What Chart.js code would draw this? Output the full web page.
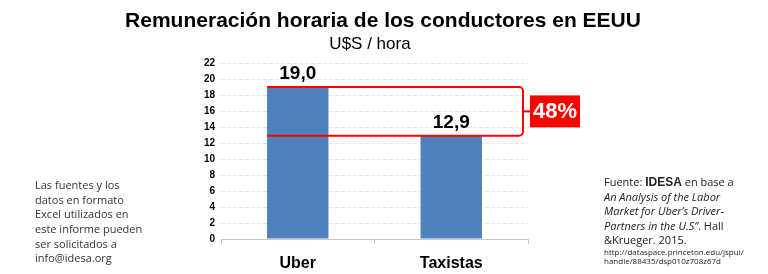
<!DOCTYPE html>
<html>
<head>
<meta charset="utf-8">
<script src="https://cdn.jsdelivr.net/npm/chart.js@4"></script>
<style>
  html, body { margin: 0; padding: 0; background: #fff; }
  #wrap { position: relative; width: 768px; height: 274px; }
</style>
</head>
<body>
<div id="wrap"><canvas id="c" width="768" height="274"></canvas></div>
<script>
// data
const categories = ['Uber', 'Taxistas'];
const salary = [19.0, 12.9];
const yTicks = [0, 2, 4, 6, 8, 10, 12, 14, 16, 18, 20, 22];
const gapLabel = '48%';

const title = 'Remuneración horaria de los conductores en EEUU';
const subtitle = 'U$S / hora';
const noteLines = ['Las fuentes y los', 'datos en formato', 'Excel utilizados en', 'este informe pueden', 'ser solicitados a', 'info@idesa.org'];

const RED = '#ff0000';
const SANS = '"Liberation Sans", Arial, sans-serif';
const SOFT = '"Open Sans", "Noto Sans", sans-serif';

const fmt = v => v.toFixed(1).replace('.', ',');

// texts, value labels and the red bracket
const extras = {
  id: 'extras',
  afterDatasetsDraw(chart) {
    const c = chart.ctx;
    const y = chart.scales.y;
    const area = chart.chartArea;
    const bars = chart.getDatasetMeta(0).data;
    c.save();

    // value labels
    c.fillStyle = '#000';
    c.font = 'bold 19px ' + SANS;
    c.textAlign = 'center';
    c.textBaseline = 'bottom';
    bars.forEach((b, i) => c.fillText(fmt(salary[i]), b.x, b.y - 4));

    // bracket
    const yHi = y.getPixelForValue(salary[0]);
    const yLo = y.getPixelForValue(salary[1]);
    const x0 = bars[0].x - bars[0].width / 2;
    const x1 = area.right - 5;
    const r = 4;
    c.strokeStyle = RED;
    c.lineWidth = 2;
    c.beginPath();
    c.moveTo(x0, yHi);
    c.lineTo(x1 - r, yHi);
    c.arcTo(x1, yHi, x1, yHi + r, r);
    c.lineTo(x1, yLo - r);
    c.arcTo(x1, yLo, x1 - r, yLo, r);
    c.lineTo(x0, yLo);
    c.stroke();
    const ym = (yHi + yLo) / 2;
    c.beginPath();
    c.moveTo(x1, ym);
    c.lineTo(x1 + 8, ym);
    c.stroke();
    c.fillStyle = RED;
    c.fillRect(x1 + 7, ym - 16, 50, 32);
    c.fillStyle = '#fff';
    c.font = 'bold 22px ' + SANS;
    c.textBaseline = 'middle';
    c.fillText(gapLabel, x1 + 32, ym + 1);
    c.restore();
  },
  afterDraw(chart) {
    const c = chart.ctx;
    c.save();
    c.fillStyle = '#000';
    c.textAlign = 'center';
    c.textBaseline = 'middle';
    c.font = 'bold 21px ' + SANS;
    c.fillText(title, 383, 21);
    c.font = '17px ' + SANS;
    c.fillText(subtitle, 370, 44);

    // left note
    c.textAlign = 'left';
    c.fillStyle = '#333';
    c.font = '11px ' + SOFT;
    noteLines.forEach((t, i) => c.fillText(t, 35, 186 + i * 14.6));

    // source
    let x = 604;
    c.fillStyle = '#222';
    c.font = '11px ' + SOFT;
    c.fillText('Fuente: ', x, 183);
    x += c.measureText('Fuente: ').width;
    c.font = 'bold 12px ' + SANS;
    c.fillText('IDESA', x, 183);
    x += c.measureText('IDESA').width;
    c.font = '11px ' + SOFT;
    c.fillText(' en base a', x, 183);
    c.font = 'italic 11px ' + SOFT;
    c.fillText('An Analysis of the Labor', 604, 197.5);
    c.fillText('Market for Uber\u2019s Driver-', 604, 212);
    const p = 'Partners in the U.S\u201d';
    c.fillText(p, 604, 226.5);
    const pw = c.measureText(p).width;
    c.font = '11px ' + SOFT;
    c.fillText('. Hall', 604 + pw, 226.5);
    c.fillText('&Krueger. 2015.', 604, 241);
    c.font = '8px ' + SOFT;
    c.fillText('http://dataspace.princeton.edu/jspui/', 604, 252.5);
    c.fillText('handle/88435/dsp010z708z67d', 604, 262);
    c.restore();
  }
};

new Chart(document.getElementById('c'), {
  type: 'bar',
  data: {
    labels: categories,
    datasets: [{
      data: salary,
      backgroundColor: '#4f81bd',
      borderWidth: 0,
      barPercentage: 0.8,
      categoryPercentage: 0.5
    }]
  },
  options: {
    responsive: false,
    animation: false,
    events: [],
    layout: { padding: { left: 185, right: 240, top: 63, bottom: 0 } },
    scales: {
      y: {
        min: 0, max: 22,
        afterBuildTicks: s => { s.ticks = yTicks.map(v => ({ value: v })); },
        afterFit: s => { s.width = 36; },
        ticks: { color: '#000', font: { family: SANS, size: 10, weight: 'bold' }, padding: 6 },
        grid: { color: '#e6e6e6', tickLength: 0 },
        border: { display: false, dash: [4, 2] }
      },
      x: {
        afterFit: s => { s.height = 35; },
        ticks: { color: '#000', font: { family: SANS, size: 16, weight: 'bold' }, padding: 10 },
        grid: { offset: true, drawOnChartArea: false, tickLength: 5, color: '#c8c8c8' },
        border: { display: true, color: '#c8c8c8' }
      }
    },
    plugins: {
      legend: { display: false },
      tooltip: { enabled: false }
    }
  },
  plugins: [extras]
});
</script>
</body>
</html>
